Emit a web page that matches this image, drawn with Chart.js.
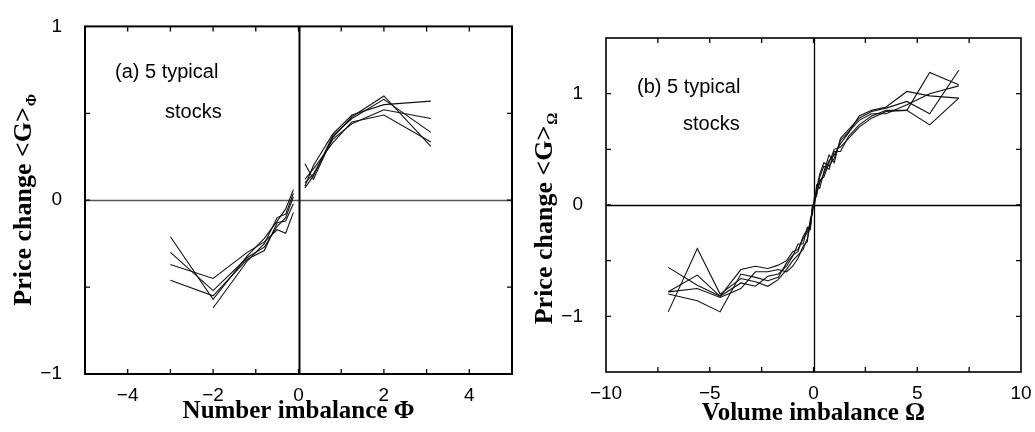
<!DOCTYPE html>
<html>
<head>
<meta charset="utf-8">
<script src="https://cdn.jsdelivr.net/npm/chart.js@4.4.1/dist/chart.umd.min.js"></script>
<style>
body{margin:0;background:#fff;}
#wrap{position:relative;width:1035px;height:432px;}
#chart-phi{position:absolute;left:0;top:0;}
#chart-omega{position:absolute;left:520px;top:0;}
</style>
</head>
<body>
<div id="wrap">
<canvas id="chart-phi" width="520" height="432"></canvas>
<canvas id="chart-omega" width="515" height="432"></canvas>
</div>
<script>
// (a) number imbalance Phi, 5 stocks
const phiX = [-3, -2, -1.2, -0.8, -0.5, -0.3, -0.12, 0.15, 0.35, 0.8, 1.25, 2, 3.1];
const phiStockA = [-0.21, -0.57, -0.32, -0.22, -0.12, -0.05, 0.06, 0.21, 0.12, 0.36, 0.48, 0.60, 0.31];
const phiStockB = [-0.30, -0.52, -0.33, -0.27, -0.15, -0.10, 0.02, 0.08, 0.20, 0.38, 0.49, 0.55, 0.57];
const phiStockC = [-0.37, -0.45, -0.30, -0.24, -0.17, -0.19, -0.07, 0.10, 0.15, 0.35, 0.44, 0.52, 0.47];
const phiStockD = [-0.46, -0.55, -0.34, -0.29, -0.13, -0.12, -0.02, 0.12, 0.18, 0.33, 0.45, 0.49, 0.335];
const phiStockE = [null, -0.62, -0.35, -0.25, -0.10, -0.08, 0.04, 0.07, 0.14, 0.37, 0.47, 0.58, 0.39];
const phiXTickLabels = [-4, -2, 0, 2, 4];
const phiYTickLabels = [-1, 0, 1];

// (b) volume imbalance Omega, 5 stocks
const omegaX = [-7, -5.6, -4.5, -3.5, -2.8, -2.2, -1.7, -1.3, -1.0, -0.75, -0.5, -0.3, -0.15, -0.05,
                0.05, 0.15, 0.3, 0.5, 0.75, 1.0, 1.3, 1.7, 2.2, 2.8, 3.5, 4.5, 5.6, 7];
const omegaStockA = [-0.56, -0.72, -0.82, -0.58, -0.55, -0.57, -0.54, -0.50, -0.42, -0.40, -0.30, -0.25, -0.15, -0.02,
                     0.02, 0.12, 0.20, 0.28, 0.40, 0.45, 0.55, 0.65, 0.80, 0.85, 0.88, 1.02, 0.98, 0.96];
const omegaStockB = [-0.96, -0.39, -0.80, -0.66, -0.69, -0.73, -0.67, -0.58, -0.50, -0.45, -0.40, -0.30, -0.18, -0.05,
                     0.05, 0.08, 0.25, 0.35, 0.32, 0.48, 0.48, 0.62, 0.72, 0.80, 0.85, 0.85, 1.19, 1.08];
const omegaStockC = [-0.78, -0.63, -0.82, -0.70, -0.73, -0.64, -0.62, -0.55, -0.46, -0.35, -0.35, -0.20, -0.22, 0.0,
                     0.0, 0.18, 0.15, 0.30, 0.45, 0.38, 0.60, 0.68, 0.78, 0.84, 0.87, 0.93, 0.82, 1.21];
const omegaStockD = [-0.78, -0.75, -0.83, -0.75, -0.60, -0.60, -0.58, -0.60, -0.55, -0.48, -0.37, -0.33, -0.12, -0.08,
                     0.08, 0.10, 0.22, 0.25, 0.38, 0.50, 0.52, 0.60, 0.70, 0.78, 0.84, 0.85, 0.72, 0.96];
const omegaStockE = [-0.80, -0.86, -0.96, -0.62, -0.65, -0.68, -0.65, -0.52, -0.45, -0.42, -0.28, -0.22, -0.20, -0.03,
                     0.03, 0.15, 0.28, 0.38, 0.35, 0.42, 0.58, 0.66, 0.76, 0.82, 0.82, 0.90, 1.00, 1.07];
const omegaXTickLabels = [-10, -5, 0, 5, 10];
const omegaYTickLabels = [-1, 0, 1];

const tickFont = {family: 'Liberation Sans, Arial, sans-serif', size: 19};
const serif = 'Liberation Serif, Times New Roman, serif';

function fmt(v) {
    return v < 0 ? '\u2212' + Math.abs(v) : String(v);
}

function buildPoints(xs, ys, splitAtZero) {
    const pts = [];
    for (let i = 0; i < xs.length; i++) {
        if (splitAtZero && i > 0 && xs[i-1] < 0 && xs[i] > 0) pts.push({x: 0, y: null});
        pts.push({x: xs[i], y: ys[i]});
    }
    return pts;
}

function panelPlugin(cfg) {
    return {
        id: 'panel',
        beforeDatasetsDraw(chart) {
            const ctx = chart.ctx, a = chart.chartArea;
            const x = chart.scales.x, y = chart.scales.y;
            ctx.save();
            const y0 = Math.round(y.getPixelForValue(0)) + 0.5;
            ctx.strokeStyle = cfg.hZeroColor;
            ctx.lineWidth = cfg.hZeroWidth;
            ctx.beginPath(); ctx.moveTo(a.left, y0); ctx.lineTo(a.right, y0); ctx.stroke();
            const x0 = Math.round(x.getPixelForValue(0)) + 0.5;
            ctx.strokeStyle = cfg.vZeroColor;
            ctx.lineWidth = cfg.vZeroWidth;
            ctx.beginPath(); ctx.moveTo(x0, a.top); ctx.lineTo(x0, a.bottom); ctx.stroke();
            ctx.restore();
        },
        afterDatasetsDraw(chart) {
            const ctx = chart.ctx, a = chart.chartArea;
            const x = chart.scales.x, y = chart.scales.y;
            ctx.save();
            // frame
            ctx.strokeStyle = '#000';
            ctx.lineWidth = cfg.frameWidth;
            ctx.strokeRect(a.left, a.top, a.right - a.left, a.bottom - a.top);
            // inward ticks on all four sides
            ctx.lineWidth = 1.3;
            const len = 5;
            ctx.beginPath();
            x.ticks.forEach(t => {
                if (t.value <= x.min || t.value >= x.max) return;
                const px = x.getPixelForValue(t.value);
                ctx.moveTo(px, a.bottom); ctx.lineTo(px, a.bottom - len);
                ctx.moveTo(px, a.top); ctx.lineTo(px, a.top + len);
            });
            y.ticks.forEach(t => {
                if (t.value <= y.min || t.value >= y.max) return;
                const py = y.getPixelForValue(t.value);
                ctx.moveTo(a.left, py); ctx.lineTo(a.left + len, py);
                ctx.moveTo(a.right, py); ctx.lineTo(a.right - len, py);
            });
            ctx.stroke();

            // panel note
            ctx.fillStyle = '#000';
            ctx.font = '20px Liberation Sans, Arial, sans-serif';
            ctx.textAlign = 'left';
            ctx.textBaseline = 'alphabetic';
            ctx.fillText(cfg.note1[0], cfg.note1[1], cfg.note1[2]);
            ctx.fillText(cfg.note2[0], cfg.note2[1], cfg.note2[2]);

            // x title
            ctx.font = 'bold 25px ' + serif;
            ctx.textAlign = 'center';
            ctx.fillText(cfg.xTitle, (a.left + a.right) / 2, cfg.xTitleY);

            // y title with subscript
            const main = 'Price change <G>';
            ctx.font = 'bold 26px ' + serif;
            const wMain = ctx.measureText(main).width;
            ctx.font = 'bold 15px ' + serif;
            const wSub = ctx.measureText(cfg.ySub).width;
            ctx.translate(cfg.yTitleX, (a.top + a.bottom) / 2 + cfg.yTitleShift);
            ctx.rotate(-Math.PI / 2);
            ctx.textAlign = 'left';
            const start = -(wMain + wSub) / 2;
            ctx.font = 'bold 26px ' + serif;
            ctx.fillText(main, start, 0);
            ctx.font = 'bold 15px ' + serif;
            ctx.fillText(cfg.ySub, start + wMain + 1, 5);
            ctx.restore();
        }
    };
}

function makePanel(canvasId, xs, series, split, box, axes, cfg) {
    const ctx = document.getElementById(canvasId).getContext('2d');
    const canvasW = ctx.canvas.width, canvasH = ctx.canvas.height;
    const datasets = series.map(s => ({
        data: buildPoints(xs, s, split),
        showLine: true,
        borderColor: '#111',
        borderWidth: 1.1,
        pointRadius: 0,
        tension: 0,
        spanGaps: false
    }));
    return new Chart(ctx, {
        type: 'scatter',
        data: {datasets: datasets},
        options: {
            responsive: false,
            animation: false,
            devicePixelRatio: 1,
            layout: {padding: {top: box.top, right: canvasW - box.right, left: 0, bottom: 0}},
            plugins: {legend: {display: false}, tooltip: {enabled: false}},
            scales: {
                x: {
                    type: 'linear',
                    min: axes.xMin, max: axes.xMax,
                    grid: {display: false},
                    border: {display: false},
                    ticks: {
                        stepSize: axes.xStep,
                        font: tickFont,
                        color: '#000',
                        padding: 2,
                        maxRotation: 0,
                        autoSkip: false,
                        callback: v => axes.xLabels.includes(v) ? fmt(v) : ''
                    },
                    afterFit: scale => { scale.height = canvasH - box.bottom; }
                },
                y: {
                    type: 'linear',
                    min: axes.yMin, max: axes.yMax,
                    grid: {display: false},
                    border: {display: false},
                    ticks: {
                        stepSize: 0.5,
                        font: tickFont,
                        color: '#000',
                        padding: 15,
                        autoSkip: false,
                        callback: v => axes.yLabels.includes(v) ? fmt(v) : ''
                    },
                    afterFit: scale => { scale.width = box.left; }
                }
            }
        },
        plugins: [panelPlugin(cfg)]
    });
}

makePanel('chart-phi', phiX,
    [phiStockA, phiStockB, phiStockC, phiStockD, phiStockE], true,
    {left: 85, right: 512, top: 20, bottom: 374},
    {xMin: -5, xMax: 5, xStep: 1, xLabels: phiXTickLabels, yMin: -1, yMax: 1, yLabels: phiYTickLabels},
    {hZeroColor: '#555', hZeroWidth: 1.6, vZeroColor: '#000', vZeroWidth: 2, frameWidth: 2,
     note1: ['(a) 5 typical', 115, 78], note2: ['stocks', 165, 118],
     xTitle: 'Number imbalance \u03A6', xTitleY: 418, yTitleX: 31, yTitleShift: 0, ySub: '\u03A6'});

makePanel('chart-omega', omegaX,
    [omegaStockA, omegaStockB, omegaStockC, omegaStockD, omegaStockE], false,
    {left: 86, right: 501, top: 38, bottom: 372},
    {xMin: -10, xMax: 10, xStep: 2.5, xLabels: omegaXTickLabels, yMin: -1.5, yMax: 1.5, yLabels: omegaYTickLabels},
    {hZeroColor: '#000', hZeroWidth: 1.3, vZeroColor: '#000', vZeroWidth: 1.3, frameWidth: 1.6,
     note1: ['(b) 5 typical', 117, 93], note2: ['stocks', 163, 130],
     xTitle: 'Volume imbalance \u03A9', xTitleY: 420, yTitleX: 32, yTitleShift: 14, ySub: '\u03A9'});
</script>
</body>
</html>
